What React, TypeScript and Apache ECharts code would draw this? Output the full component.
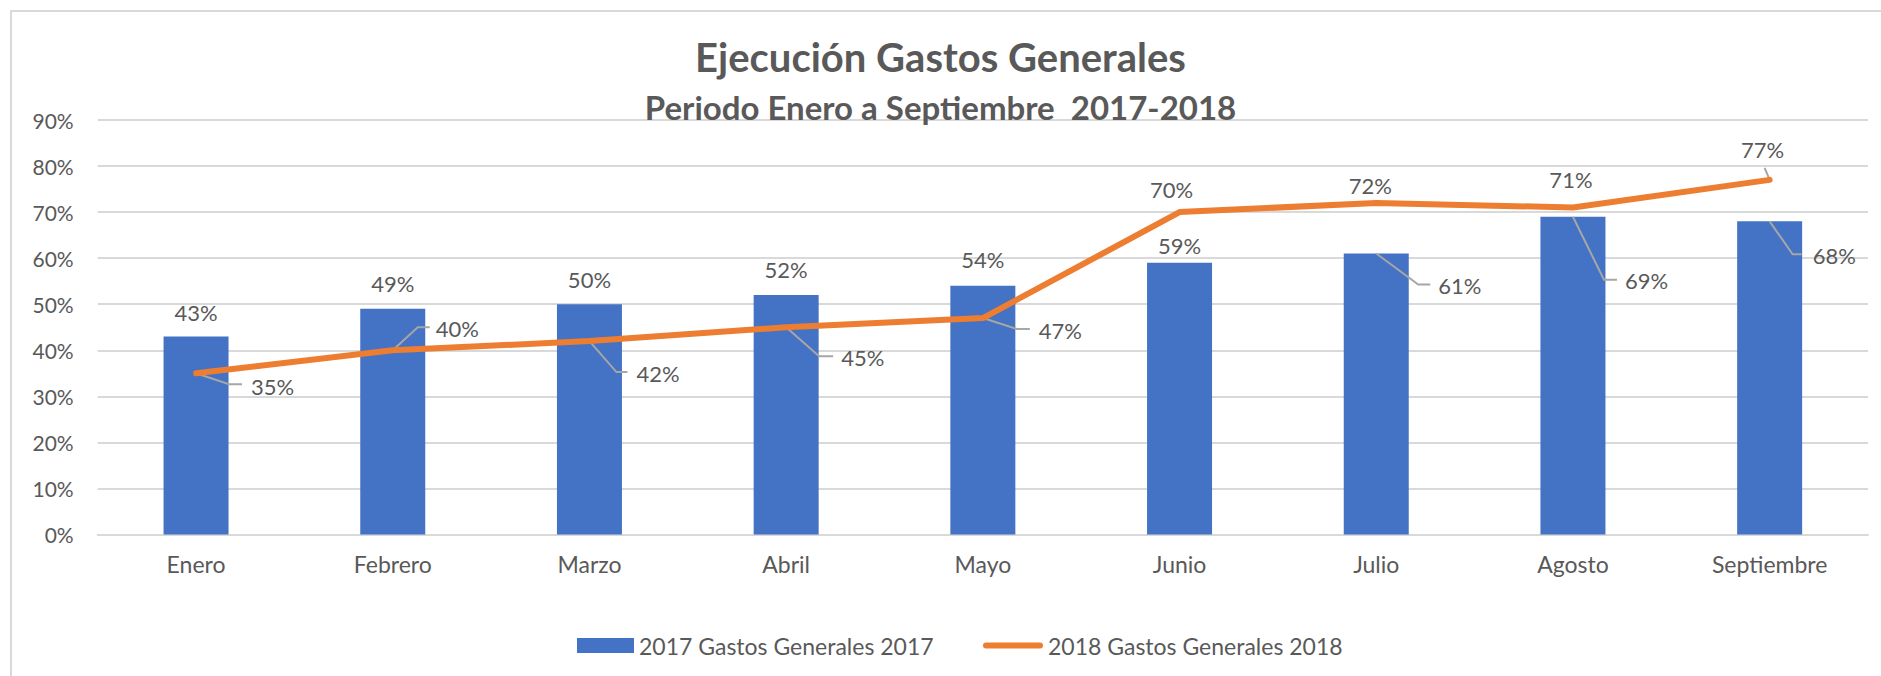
import React, { useEffect, useRef } from "react";
import * as echarts from "echarts";

// ---- data ----
const categories = ["Enero", "Febrero", "Marzo", "Abril", "Mayo", "Junio", "Julio", "Agosto", "Septiembre"];
const gastos2017 = [43, 49, 50, 52, 54, 59, 61, 69, 68];
const gastos2018 = [35, 40, 42, 45, 47, 70, 72, 71, 77];
const seriesNames = ["2017 Gastos Generales 2017", "2018 Gastos Generales 2018"];
const titleText = "Ejecución Gastos Generales";
const subtitleText = "Periodo Enero a Septiembre  2017-2018";
const yMin = 0;
const yMax = 90;
const yStep = 10;

// ---- label placement (layout only, px offsets from the mark anchor) ----
type Place = { above?: [number, number]; side?: [number, number]; lead?: [number, number][] };
const barLabelPlace: Place[] = [
  { above: [0, -24] },
  { above: [0, -25] },
  { above: [0, -25] },
  { above: [0, -26] },
  { above: [0, -26] },
  { above: [0, -17] },
  { side: [62, 32], lead: [[42, 31], [54, 31]] },
  { side: [52, 64], lead: [[31, 63], [44, 63]] },
  { side: [43, 34], lead: [[23, 33], [32, 33]] },
];
const lineLabelPlace: Place[] = [
  { side: [55, 13], lead: [[33, 11], [46, 11]] },
  { side: [43, -22], lead: [[25, -23], [37, -23]] },
  { side: [47, 32], lead: [[27, 31], [38, 31]] },
  { side: [55, 30], lead: [[33, 29], [47, 29]] },
  { side: [56, 12], lead: [[34, 11], [47, 11]] },
  { above: [-8, -23] },
  { above: [-6, -17] },
  { above: [-2, -28] },
  { above: [-7, -30], lead: [[-5, -12]] },
];

const FONT = 'Lato, "Open Sans", sans-serif';
const TEXT = "#595959";
const GRID = "#d9d9d9";
const BLUE = "#4472C4";
const ORANGE = "#ED7D31";
const LEADER = "#a6a6a6";

function layoutFor(places: Place[], isBar: boolean) {
  return (p: any) => {
    const pl = places[p.dataIndex];
    const cx = p.rect.x + p.rect.width / 2;
    const cy = isBar ? p.rect.y : p.rect.y + p.rect.height / 2;
    if (pl.side) {
      return { x: cx + pl.side[0], y: cy + pl.side[1], align: "left", verticalAlign: "middle" };
    }
    const a = pl.above || [0, -24];
    return { x: cx + a[0], y: cy + a[1], align: "center", verticalAlign: "middle" };
  };
}

export default function App() {
  const ref = useRef<HTMLDivElement>(null);
  useEffect(() => {
    if (!ref.current) return;
    const chart = echarts.init(ref.current, null, { renderer: "svg" });
    const border = {
      type: "rect",
      silent: true,
      z: -10,
      shape: { x: 11, y: 11, width: 1900, height: 700 },
      style: { fill: "none", stroke: GRID, lineWidth: 2 },
    };
    chart.setOption({
      animation: false,
      textStyle: { fontFamily: FONT },
      title: {
        text: titleText,
        subtext: subtitleText,
        left: "center",
        top: 34,
        padding: [0, 0, 0, 31],
        itemGap: 9,
        textStyle: { fontFamily: FONT, fontSize: 40, fontWeight: "bold", color: TEXT, lineHeight: 46 },
        subtextStyle: { fontFamily: FONT, fontSize: 33, fontWeight: "bold", color: TEXT, lineHeight: 36 },
      },
      legend: [
        {
          data: [{ name: seriesNames[0], icon: "rect" }],
          left: 577,
          top: 634,
          padding: 0,
          itemWidth: 57,
          itemHeight: 15,
          selectedMode: false,
          textStyle: { fontFamily: FONT, fontSize: 23, color: TEXT },
        },
        {
          data: [{ name: seriesNames[1], icon: "path://M3,0 L57,0 A3,3 0 0 1 57,6 L3,6 A3,3 0 0 1 3,0 Z" }],
          left: 983,
          top: 634,
          padding: 0,
          itemWidth: 60,
          itemHeight: 6,
          selectedMode: false,
          textStyle: { fontFamily: FONT, fontSize: 23, color: TEXT },
        },
      ],
      grid: { left: 97.7, right: 13, top: 120, bottom: 141.5, containLabel: false },
      xAxis: {
        type: "category",
        data: categories,
        boundaryGap: true,
        axisLine: { show: true, lineStyle: { color: GRID, width: 2 } },
        axisTick: { show: false },
        axisLabel: { fontFamily: FONT, fontSize: 23, color: TEXT, margin: 18 },
      },
      yAxis: {
        type: "value",
        min: yMin,
        max: yMax,
        interval: yStep,
        axisLine: { show: false },
        axisTick: { show: false },
        axisLabel: { fontFamily: FONT, fontSize: 21, color: TEXT, margin: 24, formatter: "{value}%" },
        splitLine: { lineStyle: { color: GRID, width: 2 } },
      },
      series: [
        {
          name: seriesNames[0],
          type: "bar",
          data: gastos2017,
          barWidth: 65,
          itemStyle: { color: BLUE },
          label: {
            show: true,
            position: "top",
            formatter: "{c}%",
            fontFamily: FONT,
            fontSize: 22,
            color: TEXT,
          },
          labelLayout: layoutFor(barLabelPlace, true),
        },
        {
          name: seriesNames[1],
          type: "line",
          data: gastos2018,
          symbol: "circle",
          symbolSize: 4,
          showSymbol: true,
          itemStyle: { color: ORANGE },
          lineStyle: { color: ORANGE, width: 6, cap: "round", join: "round" },
          label: {
            show: true,
            position: "top",
            formatter: "{c}%",
            fontFamily: FONT,
            fontSize: 22,
            color: TEXT,
          },
          labelLayout: layoutFor(lineLabelPlace, false),
          z: 4,
        },
      ],
      graphic: { elements: [border] },
    });

    const leaders: any[] = [];
    const addLeaders = (values: number[], places: Place[], seriesIndex: number) => {
      values.forEach((v, i) => {
        const pl = places[i];
        if (!pl.lead) return;
        const pt = chart.convertToPixel({ seriesIndex }, [i, v]) as number[];
        if (!pt) return;
        const points = [[pt[0], pt[1]], ...pl.lead.map(([dx, dy]) => [pt[0] + dx, pt[1] + dy])];
        leaders.push({
          type: "polyline",
          silent: true,
          z: 3,
          shape: { points },
          style: { stroke: LEADER, lineWidth: 2, fill: null },
        });
      });
    };
    addLeaders(gastos2017, barLabelPlace, 0);
    addLeaders(gastos2018, lineLabelPlace, 1);
    chart.setOption({ graphic: { elements: [border, ...leaders] } });

    return () => chart.dispose();
  }, []);
  return (
    <div
      ref={ref}
      style={{ position: "fixed", left: 0, top: 0, width: 1881, height: 676, background: "#fff" }}
    />
  );
}
